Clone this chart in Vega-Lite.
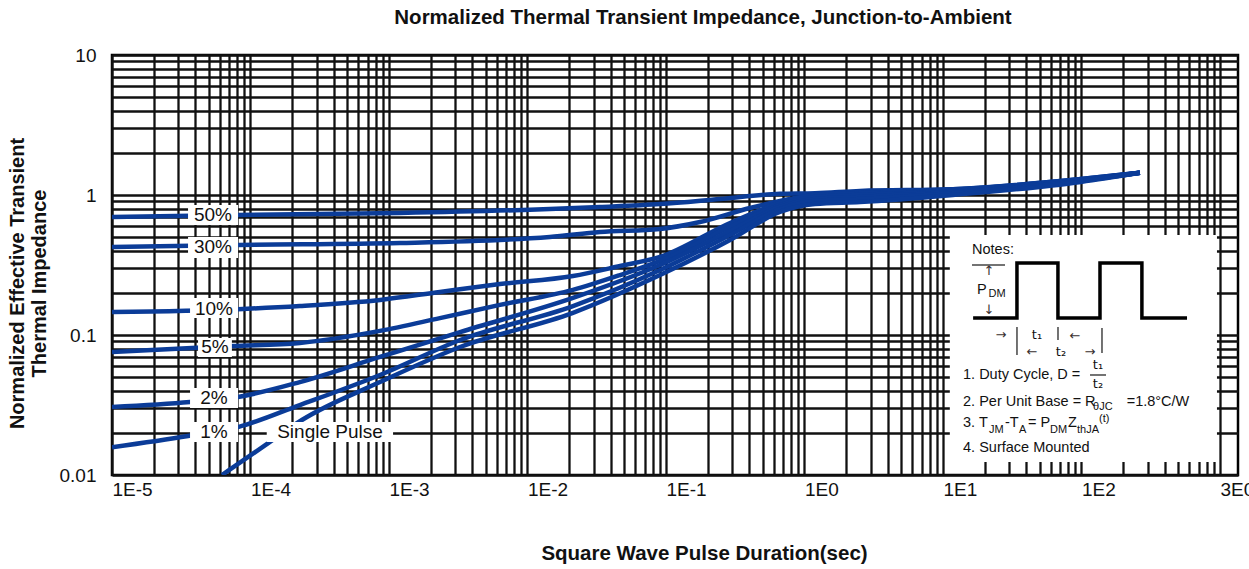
{
 "$schema": "https://vega.github.io/schema/vega-lite/v6.json",
 "width": 1126,
 "height": 420,
 "autosize": {"type": "none"},
 "padding": {"left": 112, "top": 55, "right": 11, "bottom": 94},
 "background": "white",
 "config": {"view": {"stroke": "#000", "strokeWidth": 2.5}, "font": "Liberation Sans"},
 "title": {"text": "Normalized Thermal Transient Impedance, Junction-to-Ambient", "fontSize": 20.5, "fontWeight": "bold", "font": "Liberation Sans", "anchor": "middle", "dx": 28, "offset": 18, "color": "#111"},
 "datasets": {
  "curves": [
   {"s":"50","t":1e-5,"z":0.697},{"s":"50","t":8.13e-5,"z":0.72},{"s":"50","t":1.2e-3,"z":0.744},{"s":"50","t":1.45e-2,"z":0.794},{"s":"50","t":3.33e-2,"z":0.821},{"s":"50","t":9.06e-2,"z":0.862},{"s":"50","t":0.245,"z":0.937},{"s":"50","t":0.665,"z":1.02},{"s":"50","t":1.19,"z":1.03},{"s":"50","t":2.52,"z":1.07},{"s":"50","t":11.8,"z":1.10},{"s":"50","t":99.1,"z":1.30},{"s":"50","t":264,"z":1.44},
   {"s":"30","t":1e-5,"z":0.425},{"s":"30","t":8.13e-5,"z":0.44},{"s":"30","t":1.2e-3,"z":0.454},{"s":"30","t":1.45e-2,"z":0.501},{"s":"30","t":3.33e-2,"z":0.544},{"s":"30","t":9.06e-2,"z":0.572},{"s":"30","t":0.176,"z":0.641},{"s":"30","t":0.404,"z":0.807},{"s":"30","t":0.785,"z":0.937},{"s":"30","t":1.19,"z":1.0},{"s":"30","t":2.52,"z":1.05},{"s":"30","t":11.8,"z":1.10},{"s":"30","t":99.1,"z":1.30},{"s":"30","t":264,"z":1.44},
   {"s":"10","t":1e-5,"z":0.146},{"s":"10","t":8.13e-5,"z":0.153},{"s":"10","t":2.27e-4,"z":0.161},{"s":"10","t":8.61e-4,"z":0.178},{"s":"10","t":2.33e-3,"z":0.203},{"s":"10","t":6.32e-3,"z":0.231},{"s":"10","t":2.13e-2,"z":0.264},{"s":"10","t":4.66e-2,"z":0.311},{"s":"10","t":9.06e-2,"z":0.361},{"s":"10","t":0.29,"z":0.631},{"s":"10","t":0.665,"z":0.877},{"s":"10","t":1.19,"z":1.0},{"s":"10","t":2.52,"z":1.03},{"s":"10","t":11.8,"z":1.09},{"s":"10","t":99.1,"z":1.28},{"s":"10","t":264,"z":1.44},
   {"s":"5","t":1e-5,"z":0.0756},{"s":"5","t":7.34e-5,"z":0.0834},{"s":"5","t":2.27e-4,"z":0.0877},{"s":"5","t":8.61e-4,"z":0.107},{"s":"5","t":2.33e-3,"z":0.132},{"s":"5","t":6.32e-3,"z":0.164},{"s":"5","t":2.13e-2,"z":0.210},{"s":"5","t":4.66e-2,"z":0.268},{"s":"5","t":9.06e-2,"z":0.338},{"s":"5","t":0.29,"z":0.591},{"s":"5","t":0.665,"z":0.848},{"s":"5","t":1.19,"z":0.968},{"s":"5","t":2.52,"z":1.0},{"s":"5","t":11.8,"z":1.07},{"s":"5","t":99.1,"z":1.28},{"s":"5","t":264,"z":1.44},
   {"s":"2","t":1e-5,"z":0.0306},{"s":"2","t":3.66e-5,"z":0.0332},{"s":"2","t":8.13e-5,"z":0.0361},{"s":"2","t":2.27e-4,"z":0.0461},{"s":"2","t":8.61e-4,"z":0.0697},{"s":"2","t":3.26e-3,"z":0.105},{"s":"2","t":2.13e-2,"z":0.184},{"s":"2","t":9.06e-2,"z":0.316},{"s":"2","t":0.29,"z":0.553},{"s":"2","t":0.665,"z":0.821},{"s":"2","t":1.19,"z":0.937},{"s":"2","t":2.52,"z":0.968},{"s":"2","t":11.8,"z":1.05},{"s":"2","t":99.1,"z":1.26},{"s":"2","t":264,"z":1.44},
   {"s":"1","t":1e-5,"z":0.0158},{"s":"1","t":3.54e-5,"z":0.019},{"s":"1","t":8.13e-5,"z":0.022},{"s":"1","t":2.27e-4,"z":0.0316},{"s":"1","t":8.61e-4,"z":0.0518},{"s":"1","t":3.26e-3,"z":0.0921},{"s":"1","t":2.13e-2,"z":0.161},{"s":"1","t":9.06e-2,"z":0.291},{"s":"1","t":0.29,"z":0.518},{"s":"1","t":0.665,"z":0.794},{"s":"1","t":1.19,"z":0.906},{"s":"1","t":2.52,"z":0.937},{"s":"1","t":11.8,"z":1.03},{"s":"1","t":99.1,"z":1.26},{"s":"1","t":264,"z":1.44},
   {"s":"sp","t":6.22e-5,"z":0.01},{"s":"sp","t":1.31e-4,"z":0.0166},{"s":"sp","t":2.35e-4,"z":0.0247},{"s":"sp","t":8.61e-4,"z":0.0461},{"s":"sp","t":3.26e-3,"z":0.0821},{"s":"sp","t":2.13e-2,"z":0.144},{"s":"sp","t":9.06e-2,"z":0.268},{"s":"sp","t":0.29,"z":0.477},{"s":"sp","t":0.665,"z":0.757},{"s":"sp","t":1.19,"z":0.862},{"s":"sp","t":2.52,"z":0.891},{"s":"sp","t":11.8,"z":1.0},{"s":"sp","t":99.1,"z":1.24},{"s":"sp","t":264,"z":1.44}
  ],
  "boxes": [
   {"t":3.54e-5,"t2":8.13e-5,"z":0.610,"z2":0.848},
   {"t":3.54e-5,"t2":8.13e-5,"z":0.355,"z2":0.501},
   {"t":3.66e-5,"t2":8.13e-5,"z":0.132,"z2":0.184},
   {"t":4.18e-5,"t2":7.34e-5,"z":0.0697,"z2":0.0953},
   {"t":3.66e-5,"t2":8.13e-5,"z":0.0301,"z2":0.0418},
   {"t":3.66e-5,"t2":8.13e-5,"z":0.0172,"z2":0.0239},
   {"t":1.31e-4,"t2":1.07e-3,"z":0.0172,"z2":0.0239}
  ],
  "labels": [
   {"t":5.36e-5,"z":0.72,"txt":"50%"},
   {"t":5.36e-5,"z":0.425,"txt":"30%"},
   {"t":5.45e-5,"z":0.153,"txt":"10%"},
   {"t":5.54e-5,"z":0.0821,"txt":"5%"},
   {"t":5.45e-5,"z":0.0355,"txt":"2%"},
   {"t":5.45e-5,"z":0.0203,"txt":"1%"},
   {"t":3.75e-4,"z":0.0203,"txt":"Single Pulse"}
  ],
  "notesbox": [{"t":11.2,"t2":951,"z":0.01239,"z2":0.518}],
  "wave": [
   {"i":1,"t":16.5,"z":0.132},{"i":2,"t":34.2,"z":0.132},{"i":3,"t":34.2,"z":0.327},{"i":4,"t":67.6,"z":0.327},{"i":5,"t":67.6,"z":0.132},{"i":6,"t":136,"z":0.132},{"i":7,"t":136,"z":0.327},{"i":8,"t":273,"z":0.327},{"i":9,"t":273,"z":0.132},{"i":10,"t":578,"z":0.132}
  ],
  "noterules": [
   {"t":16.2,"t2":28.04,"z":0.3162,"z2":0.3162},
   {"t":115.2,"t2":150.3,"z":0.0518,"z2":0.0518},
   {"t":34.21,"t2":34.21,"z":0.1141,"z2":0.0720},
   {"t":67.66,"t2":67.66,"z":0.1141,"z2":0.0921},
   {"t":140.6,"t2":140.6,"z":0.1122,"z2":0.0744}
  ],
  "notetext": [
   {"k":"m","t":16.2,"z":0.4046,"txt":"Notes:"},
   {"k":"m","t":17.6,"z":0.2096,"txt":"P"},
   {"k":"s","t":21.3,"z":0.1963,"txt":"DM"},
   {"k":"a","t":21.48,"z":0.2865,"txt":"↑"},
   {"k":"a","t":21.48,"z":0.151,"txt":"↓"},
   {"k":"a","t":26.23,"z":0.1,"txt":"→"},
   {"k":"c","t":47.7,"z":0.1,"txt":"t₁"},
   {"k":"a","t":89.8,"z":0.0984,"txt":"←"},
   {"k":"a","t":43.9,"z":0.0756,"txt":"←"},
   {"k":"c","t":71.1,"z":0.0756,"txt":"t₂"},
   {"k":"a","t":115.2,"z":0.0756,"txt":"→"},
   {"k":"m","t":13.95,"z":0.0518,"txt":"1. Duty Cycle, D ="},
   {"k":"c","t":131.6,"z":0.0611,"txt":"t₁"},
   {"k":"c","t":131.6,"z":0.0447,"txt":"t₂"},
   {"k":"m","t":13.95,"z":0.0332,"txt":"2. Per Unit Base = R"},
   {"k":"s","t":121.1,"z":0.0306,"txt":"θJC"},
   {"k":"m","t":212,"z":0.0332,"txt":"=1.8°C/W"},
   {"k":"m","t":13.95,"z":0.0235,"txt":"3. T"},
   {"k":"s","t":21.48,"z":0.021,"txt":"JM"},
   {"k":"m","t":28.0,"z":0.0235,"txt":"-T"},
   {"k":"s","t":35.4,"z":0.021,"txt":"A"},
   {"k":"m","t":41.1,"z":0.0235,"txt":"= P"},
   {"k":"s","t":59.2,"z":0.021,"txt":"DM"},
   {"k":"m","t":79.9,"z":0.0235,"txt":"Z"},
   {"k":"s","t":92.8,"z":0.021,"txt":"thJA"},
   {"k":"s","t":133.8,"z":0.0251,"txt":"(t)"},
   {"k":"m","t":13.95,"z":0.0156,"txt":"4. Surface Mounted"}
  ]
 },
 "encoding": {
  "x": {"field": "t", "type": "quantitative", "scale": {"type": "log", "domain": [1e-5, 1349]},
   "axis": {"values": [1e-5,2e-5,3e-5,4e-5,5e-5,6e-5,7e-5,8e-5,9e-5,1e-4,2e-4,3e-4,4e-4,5e-4,6e-4,7e-4,8e-4,9e-4,0.001,0.002,0.003,0.004,0.005,0.006,0.007,0.008,0.009,0.01,0.02,0.03,0.04,0.05,0.06,0.07,0.08,0.09,0.1,0.2,0.3,0.4,0.5,0.6,0.7,0.8,0.9,1,2,3,4,5,6,7,8,9,10,20,30,40,50,60,70,80,90,100,200,300,400,500,600,700,800,900,1000],
    "labelExpr": "datum.value==1e-5?'1E-5':datum.value==1e-4?'1E-4':datum.value==0.001?'1E-3':datum.value==0.01?'1E-2':datum.value==0.1?'1E-1':datum.value==1?'1E0':datum.value==10?'1E1':datum.value==100?'1E2':datum.value==1000?'3E0':''",
    "grid": true, "gridColor": "#111", "gridWidth": 2.3, "ticks": false, "domain": false,
    "labelFlush": false, "labelOverlap": false, "labelAlign": "left", "labelDx": -3, "labelPadding": 5,
    "labelFontSize": 19, "labelColor": "#111", "labelFont": "Liberation Sans",
    "title": "Square Wave Pulse Duration(sec)", "titleFontSize": 20.5, "titleFontWeight": "bold", "titleFont": "Liberation Sans",
    "titleX": 592, "titleY": 78, "titleBaseline": "middle", "titleAlign": "center", "titleColor": "#111"}},
  "y": {"field": "z", "type": "quantitative", "scale": {"type": "log", "domain": [0.01, 10]},
   "axis": {"values": [0.01,0.02,0.03,0.04,0.05,0.06,0.07,0.08,0.09,0.1,0.2,0.3,0.4,0.5,0.6,0.7,0.8,0.9,1,2,3,4,5,6,7,8,9,10],
    "labelExpr": "datum.value==10?'10':datum.value==1?'1':datum.value==0.1?'0.1':datum.value==0.01?'0.01':''",
    "grid": true, "gridColor": "#111", "gridWidth": 2.3, "ticks": false, "domain": false,
    "labelFlush": false, "labelOverlap": false, "labelPadding": 16, "labelFontSize": 19, "labelColor": "#111", "labelFont": "Liberation Sans",
    "title": ["Normalized Effective Transient", "Thermal Impedance"], "titleFontSize": 20, "titleFontWeight": "bold", "titleFont": "Liberation Sans",
    "titleX": -95, "titleY": 228, "titleAlign": "center", "titleBaseline": "middle", "titleLineHeight": 22, "titleAngle": 270, "titleColor": "#111"}}
 },
 "layer": [
  {"data": {"name": "curves"}, "mark": {"type": "line", "interpolate": "monotone", "strokeWidth": 4.5, "color": "#0b3c98", "clip": true}, "encoding": {"detail": {"field": "s"}}},
  {"data": {"name": "boxes"}, "mark": {"type": "rect", "color": "white"}, "encoding": {"x2": {"field": "t2"}, "y2": {"field": "z2"}}},
  {"data": {"name": "labels"}, "mark": {"type": "text", "fontSize": 19, "color": "#111", "align": "center", "baseline": "middle", "font": "Liberation Sans"}, "encoding": {"text": {"field": "txt"}}},
  {"data": {"name": "notesbox"}, "mark": {"type": "rect", "color": "white"}, "encoding": {"x2": {"field": "t2"}, "y2": {"field": "z2"}}},
  {"data": {"name": "wave"}, "mark": {"type": "line", "strokeWidth": 3.5, "color": "#000"}, "encoding": {"order": {"field": "i"}}},
  {"data": {"name": "noterules"}, "mark": {"type": "rule", "strokeWidth": 1.5, "color": "#444"}, "encoding": {"x2": {"field": "t2"}, "y2": {"field": "z2"}}},
  {"data": {"name": "notetext"}, "transform": [{"filter": "datum.k=='m'"}], "mark": {"type": "text", "fontSize": 14.5, "color": "#111", "align": "left", "baseline": "middle", "font": "Liberation Sans"}, "encoding": {"text": {"field": "txt"}}},
  {"data": {"name": "notetext"}, "transform": [{"filter": "datum.k=='s'"}], "mark": {"type": "text", "fontSize": 11, "color": "#111", "align": "left", "baseline": "middle", "font": "Liberation Sans"}, "encoding": {"text": {"field": "txt"}}},
  {"data": {"name": "notetext"}, "transform": [{"filter": "datum.k=='c'"}], "mark": {"type": "text", "fontSize": 13, "color": "#111", "align": "center", "baseline": "middle", "font": "DejaVu Sans"}, "encoding": {"text": {"field": "txt"}}},
  {"data": {"name": "notetext"}, "transform": [{"filter": "datum.k=='a'"}], "mark": {"type": "text", "fontSize": 13, "color": "#3a3030", "align": "center", "baseline": "middle", "font": "DejaVu Sans"}, "encoding": {"text": {"field": "txt"}}}
 ]
}
